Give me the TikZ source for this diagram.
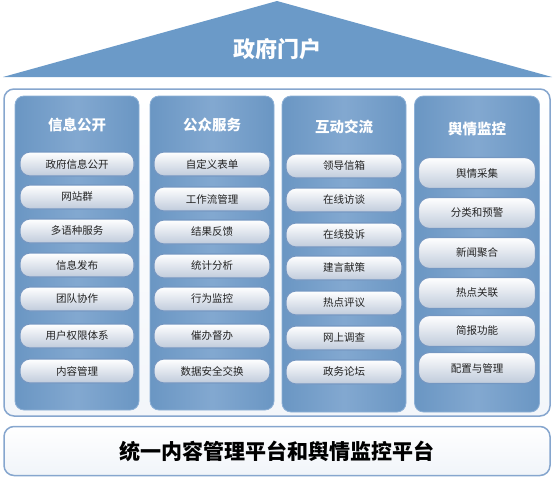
\documentclass[tikz,border=0pt]{standalone}
\usepackage{fontspec}
\setmainfont{Noto Sans CJK SC}
\usetikzlibrary{shapes.geometric}
\definecolor{roofblue}{HTML}{6B9AC8}
\definecolor{colblue}{HTML}{6A96C3}
\definecolor{collight}{HTML}{8DB0D6}
\definecolor{frameblue}{HTML}{86A6CE}
\definecolor{itemedge}{HTML}{7497C2}
\definecolor{itembot}{HTML}{C0CBDB}
\definecolor{txt}{HTML}{222222}
\tikzset{
  colbox/.style={rounded corners=9pt, draw=collight, line width=0.8pt, top color=colblue, bottom color=colblue, middle color=collight!70!colblue, shading angle=90},
  head/.style={text=white, font=\bfseries\fontsize{14.5}{16}\selectfont},
  item/.style={rounded corners=10pt, draw=itemedge, line width=1.1pt, top color=white, bottom color=itembot, text=txt, font=\fontsize{10.5}{12}\selectfont, minimum height=24pt, inner sep=0pt},
  bigitem/.style={item, rounded corners=11pt, minimum height=31pt},
}
\begin{document}
\begin{tikzpicture}[x=1pt,y=-1pt]
\useasboundingbox (0,0) rectangle (554,479);
% roof
\fill[roofblue] (3,77) -- (277,1) -- (552,77) -- cycle;
\node[text=white, font=\bfseries\fontsize{22}{24}\selectfont] (roof) at (277,49) {政府门户};
% outer frame
\draw[rounded corners=10pt, draw=frameblue, line width=1.5pt, top color=white, bottom color=white!90!frameblue] (4,89) rectangle (550,416);
% columns
\node[colbox, minimum width=124pt, minimum height=314pt] (c1) at (77,253) {};
\node[colbox, minimum width=124pt, minimum height=314pt] (c2) at (212,253) {};
\node[colbox, minimum width=124pt, minimum height=316pt] (c3) at (344,254) {};
\node[colbox, minimum width=125pt, minimum height=316pt] (c4) at (477,254) {};
\node[head] (h1) at (77,125) {信息公开};
\node[head] (h2) at (212,125) {公众服务};
\node[head] (h3) at (344,127) {互动交流};
\node[head] (h4) at (477,129) {舆情监控};
% column 1
\foreach \t/\y [count=\i] in {政府信息公开/164, 网站群/197, 多语种服务/231, 信息发布/265, 团队协作/299, 用户权限体系/336, 内容管理/371}
  \node[item, minimum width=114pt] (a\i) at (77,\y) {\t};
% column 2
\foreach \t/\y [count=\i] in {自定义表单/164, 工作流管理/199, 结果反馈/232, 统计分析/266, 行为监控/299, 催办督办/336, 数据安全交换/371}
  \node[item, minimum width=116pt] (b\i) at (212,\y) {\t};
% column 3
\foreach \t/\y [count=\i] in {领导信箱/166, 在线访谈/200, 在线投诉/235, 建言献策/268, 热点评议/303, 网上调查/338, 政务论坛/372}
  \node[item, minimum width=116pt] (d\i) at (344,\y) {\t};
% column 4
\foreach \t/\y [count=\i] in {舆情采集/173, 分类和预警/213, 新闻聚合/253, 热点关联/293, 简报功能/331, 配置与管理/368}
  \node[bigitem, minimum width=117pt] (e\i) at (477,\y) {\t};
% base bar
\node[rounded corners=10pt, draw=frameblue, line width=1.5pt, top color=white, bottom color=white!88!frameblue, minimum width=546pt, minimum height=49pt, text=black, font=\bfseries\fontsize{21}{23}\selectfont] (base) at (277,451) {统一内容管理平台和舆情监控平台};
\end{tikzpicture}
\end{document}
